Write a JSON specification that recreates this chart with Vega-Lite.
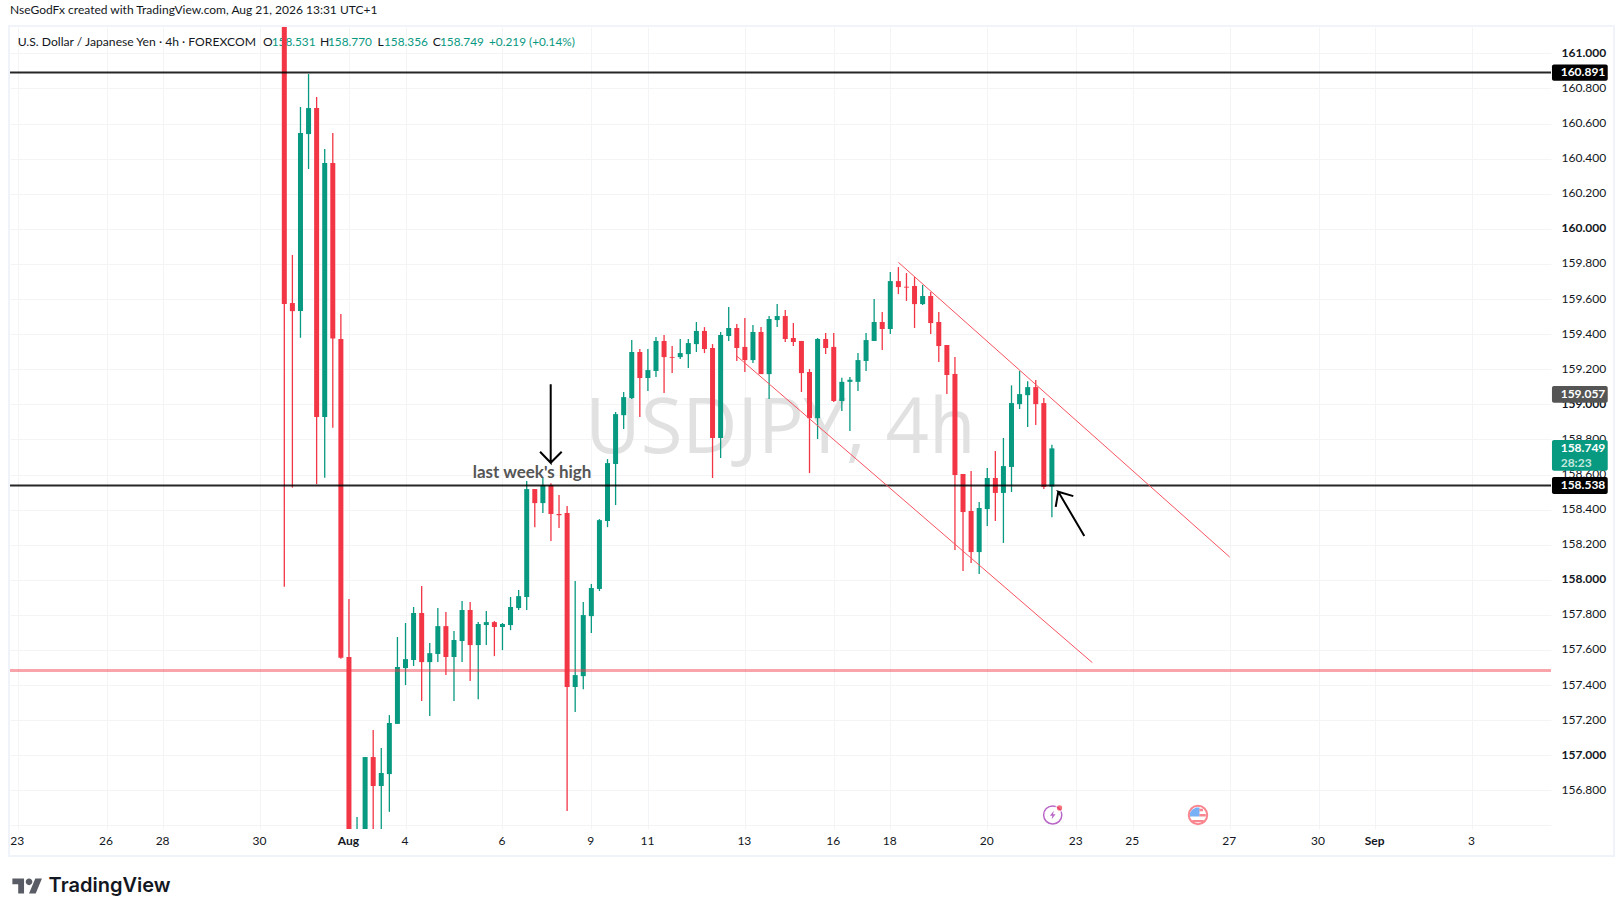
{
  "$schema": "https://vega.github.io/schema/vega-lite/v6.json",
  "width": 1541,
  "height": 802,
  "autosize": {"type": "none"},
  "padding": {"left": 10, "top": 27, "right": 72, "bottom": 87},
  "background": "#ffffff",
  "title": {"text": "NseGodFx created with TradingView.com, Aug 21, 2026 13:31 UTC+1", "anchor": "start", "frame": "group", "offset": 8, "font": "Lato", "fontSize": 12, "fontWeight": 400, "color": "#131722"},
  "config": {"view": {"stroke": null}, "font": "Lato"},
  "datasets": {
    "candles": [
      {"bar":0,"open":161.5,"high":161.6,"low":157.96,"close":159.571},
      {"bar":1,"open":159.577,"high":159.851,"low":158.525,"close":159.531},
      {"bar":2,"open":159.531,"high":160.694,"low":159.379,"close":160.546},
      {"bar":3,"open":160.54,"high":160.882,"low":160.341,"close":160.688},
      {"bar":4,"open":160.688,"high":160.751,"low":158.544,"close":158.927},
      {"bar":5,"open":158.927,"high":160.455,"low":158.582,"close":160.375},
      {"bar":6,"open":160.375,"high":160.546,"low":158.866,"close":159.375},
      {"bar":7,"open":159.372,"high":159.514,"low":157.55,"close":157.556},
      {"bar":8,"open":157.56,"high":157.89,"low":156.4,"close":156.5},
      {"bar":9,"open":156.2,"high":156.648,"low":156.1,"close":156.5},
      {"bar":10,"open":156.4,"high":156.99,"low":156.3,"close":156.99},
      {"bar":11,"open":156.99,"high":157.144,"low":156.5,"close":156.825},
      {"bar":12,"open":156.825,"high":157.041,"low":156.5,"close":156.899},
      {"bar":13,"open":156.893,"high":157.229,"low":156.678,"close":157.184},
      {"bar":14,"open":157.179,"high":157.674,"low":157.179,"close":157.503},
      {"bar":15,"open":157.497,"high":157.754,"low":157.4,"close":157.548},
      {"bar":16,"open":157.543,"high":157.845,"low":157.509,"close":157.811},
      {"bar":17,"open":157.811,"high":157.964,"low":157.309,"close":157.531},
      {"bar":18,"open":157.531,"high":157.64,"low":157.224,"close":157.582},
      {"bar":19,"open":157.577,"high":157.839,"low":157.531,"close":157.736},
      {"bar":20,"open":157.736,"high":157.816,"low":157.457,"close":157.56},
      {"bar":21,"open":157.56,"high":157.708,"low":157.309,"close":157.657},
      {"bar":22,"open":157.651,"high":157.879,"low":157.531,"close":157.828},
      {"bar":23,"open":157.828,"high":157.873,"low":157.423,"close":157.628},
      {"bar":24,"open":157.628,"high":157.759,"low":157.32,"close":157.748},
      {"bar":25,"open":157.742,"high":157.822,"low":157.628,"close":157.759},
      {"bar":26,"open":157.759,"high":157.765,"low":157.565,"close":157.731},
      {"bar":27,"open":157.731,"high":157.754,"low":157.599,"close":157.748},
      {"bar":28,"open":157.742,"high":157.902,"low":157.713,"close":157.845},
      {"bar":29,"open":157.839,"high":157.942,"low":157.828,"close":157.907},
      {"bar":30,"open":157.902,"high":158.563,"low":157.828,"close":158.517},
      {"bar":31,"open":158.517,"high":158.517,"low":158.3,"close":158.437},
      {"bar":32,"open":158.437,"high":158.58,"low":158.38,"close":158.54},
      {"bar":33,"open":158.54,"high":158.55,"low":158.221,"close":158.375},
      {"bar":34,"open":158.375,"high":158.483,"low":158.295,"close":158.368},
      {"bar":35,"open":158.38,"high":158.42,"low":156.682,"close":157.389},
      {"bar":36,"open":157.389,"high":157.993,"low":157.246,"close":157.457},
      {"bar":37,"open":157.451,"high":157.873,"low":157.377,"close":157.799},
      {"bar":38,"open":157.793,"high":157.976,"low":157.697,"close":157.953},
      {"bar":39,"open":157.948,"high":158.346,"low":157.936,"close":158.34},
      {"bar":40,"open":158.335,"high":158.688,"low":158.3,"close":158.665},
      {"bar":41,"open":158.66,"high":158.956,"low":158.426,"close":158.944},
      {"bar":42,"open":158.938,"high":159.07,"low":158.859,"close":159.041},
      {"bar":43,"open":159.036,"high":159.366,"low":159.03,"close":159.298},
      {"bar":44,"open":159.298,"high":159.315,"low":158.927,"close":159.15},
      {"bar":45,"open":159.15,"high":159.315,"low":159.076,"close":159.195},
      {"bar":46,"open":159.19,"high":159.383,"low":159.155,"close":159.361},
      {"bar":47,"open":159.361,"high":159.395,"low":159.064,"close":159.269},
      {"bar":48,"open":159.27,"high":159.332,"low":159.178,"close":159.265},
      {"bar":49,"open":159.269,"high":159.372,"low":159.258,"close":159.292},
      {"bar":50,"open":159.286,"high":159.372,"low":159.207,"close":159.349},
      {"bar":51,"open":159.343,"high":159.469,"low":159.298,"close":159.418},
      {"bar":52,"open":159.418,"high":159.44,"low":159.292,"close":159.315},
      {"bar":53,"open":159.321,"high":159.343,"low":158.58,"close":158.808},
      {"bar":54,"open":158.808,"high":159.412,"low":158.694,"close":159.395},
      {"bar":55,"open":159.389,"high":159.554,"low":159.361,"close":159.435},
      {"bar":56,"open":159.435,"high":159.458,"low":159.247,"close":159.321},
      {"bar":57,"open":159.327,"high":159.492,"low":159.184,"close":159.252},
      {"bar":58,"open":159.252,"high":159.452,"low":159.235,"close":159.412},
      {"bar":59,"open":159.412,"high":159.44,"low":159.172,"close":159.172},
      {"bar":60,"open":159.172,"high":159.503,"low":159.03,"close":159.486},
      {"bar":61,"open":159.48,"high":159.571,"low":159.44,"close":159.503},
      {"bar":62,"open":159.503,"high":159.537,"low":159.355,"close":159.372},
      {"bar":63,"open":159.378,"high":159.463,"low":159.332,"close":159.355},
      {"bar":64,"open":159.361,"high":159.361,"low":159.07,"close":159.178},
      {"bar":65,"open":159.184,"high":159.201,"low":158.608,"close":158.921},
      {"bar":66,"open":158.921,"high":159.378,"low":158.802,"close":159.372},
      {"bar":67,"open":159.372,"high":159.406,"low":159.286,"close":159.321},
      {"bar":68,"open":159.327,"high":159.406,"low":159.013,"close":159.019},
      {"bar":69,"open":159.019,"high":159.151,"low":158.962,"close":159.128},
      {"bar":70,"open":159.128,"high":159.155,"low":158.848,"close":159.14},
      {"bar":71,"open":159.128,"high":159.292,"low":159.076,"close":159.252},
      {"bar":72,"open":159.247,"high":159.406,"low":159.19,"close":159.366},
      {"bar":73,"open":159.361,"high":159.6,"low":159.361,"close":159.469},
      {"bar":74,"open":159.469,"high":159.526,"low":159.309,"close":159.429},
      {"bar":75,"open":159.429,"high":159.754,"low":159.4,"close":159.702},
      {"bar":76,"open":159.702,"high":159.782,"low":159.628,"close":159.668},
      {"bar":77,"open":159.67,"high":159.748,"low":159.589,"close":159.665},
      {"bar":78,"open":159.674,"high":159.725,"low":159.435,"close":159.571},
      {"bar":79,"open":159.571,"high":159.68,"low":159.566,"close":159.617},
      {"bar":80,"open":159.617,"high":159.64,"low":159.4,"close":159.463},
      {"bar":81,"open":159.469,"high":159.526,"low":159.241,"close":159.332},
      {"bar":82,"open":159.338,"high":159.338,"low":159.059,"close":159.167},
      {"bar":83,"open":159.173,"high":159.269,"low":158.17,"close":158.597},
      {"bar":84,"open":158.603,"high":158.603,"low":158.05,"close":158.386},
      {"bar":85,"open":158.392,"high":158.62,"low":158.096,"close":158.158},
      {"bar":86,"open":158.158,"high":158.443,"low":158.033,"close":158.409},
      {"bar":87,"open":158.403,"high":158.637,"low":158.306,"close":158.58},
      {"bar":88,"open":158.58,"high":158.734,"low":158.335,"close":158.495},
      {"bar":89,"open":158.495,"high":158.808,"low":158.21,"close":158.648},
      {"bar":90,"open":158.643,"high":159.108,"low":158.5,"close":159.007},
      {"bar":91,"open":159.001,"high":159.19,"low":158.973,"close":159.058},
      {"bar":92,"open":159.052,"high":159.132,"low":158.87,"close":159.098},
      {"bar":93,"open":159.098,"high":159.138,"low":158.882,"close":159.001},
      {"bar":94,"open":159.007,"high":159.036,"low":158.518,"close":158.529},
      {"bar":95,"open":158.531,"high":158.77,"low":158.356,"close":158.749}
    ],
    "drawings": [
      {"line":"upper channel","step":0,"bar":76,"price":159.809},
      {"line":"upper channel","step":1,"bar":117,"price":158.13},
      {"line":"lower channel","step":0,"bar":56,"price":159.275},
      {"line":"lower channel","step":1,"bar":100,"price":157.528}
    ],
    "arrows": [
      {"line":"down arrow","step":0,"bar":32.97,"price":159.115},
      {"line":"down arrow","step":1,"bar":32.97,"price":158.667},
      {"line":"down arrow","step":2,"bar":31.65,"price":158.73},
      {"line":"down arrow","step":3,"bar":32.97,"price":158.667},
      {"line":"down arrow","step":4,"bar":34.33,"price":158.73},
      {"line":"up arrow","step":0,"bar":99.01,"price":158.249},
      {"line":"up arrow","step":1,"bar":95.79,"price":158.502},
      {"line":"up arrow","step":2,"bar":97.65,"price":158.477},
      {"line":"up arrow","step":3,"bar":95.79,"price":158.502},
      {"line":"up arrow","step":4,"bar":95.47,"price":158.416}
    ],
    "tags": [
      {"kind":"level","bar":156.89,"barEnd":163.79,"top":160.937,"bottom":160.844},
      {"kind":"previous","bar":156.89,"barEnd":163.79,"top":159.104,"bottom":159.009},
      {"kind":"last","bar":156.89,"barEnd":163.79,"top":158.796,"bottom":158.621},
      {"kind":"level","bar":156.89,"barEnd":163.79,"top":158.586,"bottom":158.489}
    ],
    "tagLabels": [
      {"label":"160.891","bar":157.97,"price":160.891},
      {"label":"159.057","bar":157.97,"price":159.057},
      {"label":"158.749","bar":157.97,"price":158.749},
      {"label":"28:23","bar":157.97,"price":158.667},
      {"label":"158.538","bar":157.97,"price":158.538}
    ]
  },
  "encoding": {
    "x": {
      "field": "bar",
      "type": "quantitative",
      "title": null,
      "scale": {"domain": [-33.95, 156.77], "nice": false, "zero": false},
      "axis": {
        "values": [-33,-22,-15,-3,8,15,27,38,45,57,68,75,87,98,105,117,128,135,147],
        "labelExpr": "{'-33':'23','-22':'26','-15':'28','-3':'30','8':'Aug','15':'4','27':'6','38':'9','45':'11','57':'13','68':'16','75':'18','87':'20','98':'23','105':'25','117':'27','128':'30','135':'Sep','147':'3'}[datum.value]",
        "grid": true,
        "gridColor": "#f3f4f6",
        "domain": false,
        "ticks": false,
        "labelPadding": 6,
        "labelOffset": -1,
        "labelFont": "Lato",
        "labelFontSize": 12,
        "labelColor": "#131722",
        "labelBound": false,
        "labelFlush": false,
        "labelOverlap": false,
        "labelFontWeight": {"condition": {"test": "datum.value == 8 || datum.value == 135", "value": 700}, "value": 400}
      }
    },
    "y": {
      "field": "price",
      "type": "quantitative",
      "title": null,
      "scale": {"domain": [156.58, 161.15], "nice": false, "zero": false},
      "axis": {
        "orient": "right",
        "values": [161,160.8,160.6,160.4,160.2,160,159.8,159.6,159.4,159.2,159,158.8,158.6,158.4,158.2,158,157.8,157.6,157.4,157.2,157,156.8,156.6],
        "labelExpr": "datum.value < 156.7 ? '' : format(datum.value, '.3f')",
        "grid": true,
        "gridColor": "#f3f4f6",
        "domain": false,
        "ticks": false,
        "labelPadding": 10,
        "labelOffset": -1,
        "labelFont": "Lato",
        "labelFontSize": 12,
        "labelColor": "#131722",
        "labelBound": false,
        "labelFlush": false,
        "labelOverlap": false,
        "labelFontWeight": {"condition": {"test": "abs(datum.value - round(datum.value)) < 0.001", "value": 700}, "value": 400}
      }
    }
  },
  "layer": [
    {
      "data": {"values": [{"label":"USDJPY, 4h","bar":61.4,"price":158.855}]},
      "mark": {"type": "text", "font": "Open Sans", "fontSize": 76, "align": "center", "baseline": "middle", "color": "#e1e1e1"},
      "encoding": {"text": {"field": "label"}}
    },
    {
      "data": {"values": [
        {"label":"U.S. Dollar / Japanese Yen · 4h · FOREXCOM","bar":-33,"price":161.067},
        {"label":"O","bar":-2.64,"price":161.067},
        {"label":"H","bar":4.42,"price":161.067},
        {"label":"L","bar":11.53,"price":161.067},
        {"label":"C","bar":18.38,"price":161.067}
      ]},
      "mark": {"type": "text", "font": "Lato", "fontSize": 12.15, "align": "left", "baseline": "middle", "color": "#131722"},
      "encoding": {"text": {"field": "label"}}
    },
    {
      "data": {"values": [
        {"label":"158.531","bar":-1.56,"price":161.067},
        {"label":"158.770","bar":5.41,"price":161.067},
        {"label":"158.356","bar":12.34,"price":161.067},
        {"label":"158.749","bar":19.27,"price":161.067},
        {"label":"+0.219 (+0.14%)","bar":25.33,"price":161.067}
      ]},
      "mark": {"type": "text", "font": "Lato", "fontSize": 11.8, "align": "left", "baseline": "middle", "color": "#089981"},
      "encoding": {"text": {"field": "label"}}
    },
    {
      "data": {"name": "candles"},
      "mark": {"type": "rule", "strokeWidth": 1.3, "clip": true},
      "encoding": {
        "y": {"field": "low"},
        "y2": {"field": "high"},
        "color": {"condition": {"test": "datum.close >= datum.open", "value": "#089981"}, "value": "#f23645"}
      }
    },
    {
      "data": {"name": "candles"},
      "mark": {"type": "rule", "strokeWidth": 5, "clip": true},
      "encoding": {
        "y": {"field": "open"},
        "y2": {"field": "close"},
        "color": {"condition": {"test": "datum.close >= datum.open", "value": "#089981"}, "value": "#f23645"}
      }
    },
    {
      "data": {"values": [
        {"bar":-33.95,"barEnd":156.77,"price":160.891},
        {"bar":-33.95,"barEnd":156.77,"price":158.538}
      ]},
      "mark": {"type": "rule", "strokeWidth": 2, "color": "#000000", "opacity": 0.85},
      "encoding": {"x2": {"field": "barEnd"}}
    },
    {
      "data": {"values": [{"bar":-33.95,"barEnd":156.77,"price":157.483}]},
      "mark": {"type": "rule", "strokeWidth": 3, "color": "#f23645", "opacity": 0.45},
      "encoding": {"x2": {"field": "barEnd"}}
    },
    {
      "data": {"name": "drawings"},
      "mark": {"type": "line", "color": "#f7525f", "strokeWidth": 1},
      "encoding": {
        "detail": {"field": "line"},
        "order": {"field": "step", "type": "ordinal"}
      }
    },
    {
      "data": {"name": "arrows"},
      "mark": {"type": "line", "color": "#000000", "strokeWidth": 2},
      "encoding": {
        "detail": {"field": "line"},
        "order": {"field": "step", "type": "ordinal"}
      }
    },
    {
      "data": {"values": [{"label":"last week's high","bar":30.66,"price":158.61}]},
      "mark": {"type": "text", "font": "Lato", "fontSize": 17, "fontWeight": 700, "align": "center", "baseline": "middle", "color": "#555555"},
      "encoding": {"text": {"field": "label"}}
    },
    {
      "data": {"values": [{"bar":95.1,"price":156.66}]},
      "mark": {"type": "point", "shape": "circle", "filled": true, "fill": "#ffffff", "stroke": "#9c27b0", "strokeWidth": 1.5, "size": 330}
    },
    {
      "data": {"values": [{"bar":95.1,"price":156.66}]},
      "mark": {"type": "point", "shape": "M0.15 -0.6 L-0.4 0.1 H-0.05 L-0.15 0.6 L0.4 -0.1 H0.05 Z", "filled": true, "fill": "#9c27b0", "strokeWidth": 0, "size": 200}
    },
    {
      "data": {"values": [{"bar":95.95,"price":156.7}]},
      "mark": {"type": "point", "shape": "circle", "filled": true, "fill": "#f23645", "stroke": "#ffffff", "strokeWidth": 1.5, "size": 45}
    },
    {
      "data": {"values": [{"bar":113.08,"price":156.66}]},
      "mark": {"type": "point", "shape": "circle", "filled": true, "fill": "#ffffff", "stroke": "#f7525f", "strokeWidth": 2, "size": 340}
    },
    {
      "data": {"values": [{"bar":113.08,"price":156.66}]},
      "mark": {"type": "point", "shape": "M-0.8 0.15 L-0.8 -0.2 Q-0.6 -0.6 -0.2 -0.75 L0.15 -0.75 L0.15 0.15 Z", "filled": true, "fill": "#3d8ef0", "strokeWidth": 0, "size": 400}
    },
    {
      "data": {"values": [{"bar":113.08,"price":156.66}]},
      "mark": {"type": "point", "shape": "M0.15 -0.1 H0.78 V0.15 H0.15 Z M0.15 -0.62 H0.5 V-0.37 H0.15 Z M-0.62 0.5 H0.62 L0.42 0.72 H-0.42 Z", "filled": true, "fill": "#f7525f", "strokeWidth": 0, "size": 400}
    },
    {
      "data": {"values": [{"bar":-34.07,"barEnd":164.57,"top":161.156,"bottom":156.426}]},
      "mark": {"type": "rect", "filled": false, "stroke": "#f0f3fa", "strokeWidth": 2},
      "encoding": {
        "x2": {"field": "barEnd"},
        "y": {"field": "top"},
        "y2": {"field": "bottom"}
      }
    },
    {
      "data": {"name": "tags"},
      "mark": {"type": "rect", "cornerRadius": 2},
      "encoding": {
        "x2": {"field": "barEnd"},
        "y": {"field": "top"},
        "y2": {"field": "bottom"},
        "color": {"field": "kind", "type": "nominal", "legend": null, "scale": {"domain": ["level","previous","last"], "range": ["#000000","#555555","#089981"]}}
      }
    },
    {
      "data": {"name": "tagLabels"},
      "mark": {"type": "text", "font": "Lato", "fontSize": 12, "fontWeight": 700, "align": "left", "baseline": "middle"},
      "encoding": {
        "text": {"field": "label"},
        "color": {"condition": {"test": "datum.label == '28:23'", "value": "#c4e8df"}, "value": "#ffffff"}
      }
    },
    {
      "data": {"values": [{"bar":-31.8,"price":156.255}]},
      "mark": {"type": "point", "shape": "M-0.222 0.5 H-0.611 V-0.111 H-1 V-0.5 H-0.222 Z M0.556 0.5 H0.111 L0.528 -0.5 H0.972 Z M-0.111 -0.278 A0.222 0.222 0 1 0 0.333 -0.278 A0.222 0.222 0 1 0 -0.111 -0.278 Z", "filled": true, "fill": "#131722", "strokeWidth": 0, "size": 900}
    },
    {
      "data": {"values": [{"label":"TradingView","bar":-29.17,"price":156.255}]},
      "mark": {"type": "text", "font": "Inter", "fontSize": 20, "fontWeight": 600, "align": "left", "baseline": "middle", "color": "#131722"},
      "encoding": {"text": {"field": "label"}}
    }
  ]
}
